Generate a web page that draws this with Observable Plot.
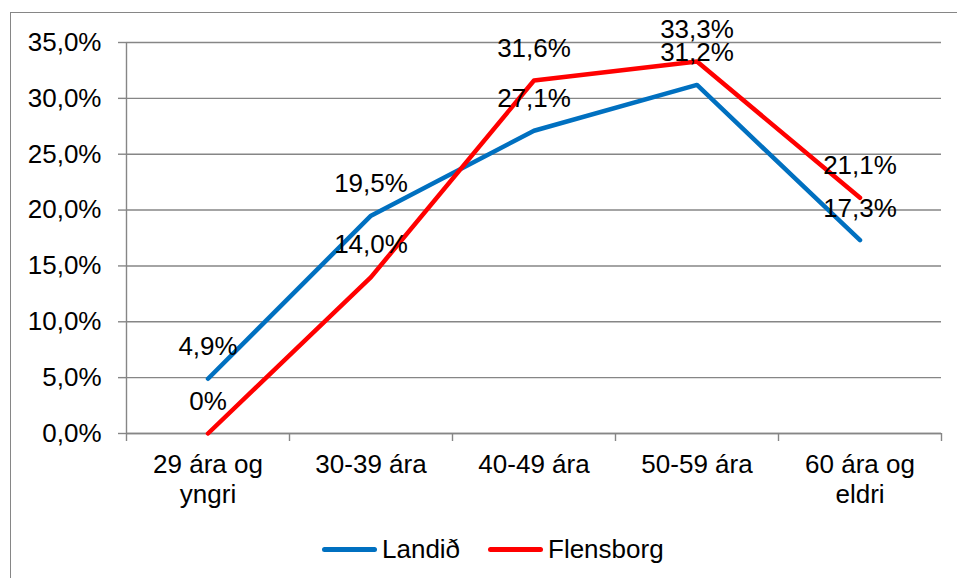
<!DOCTYPE html>
<html>
<head>
<meta charset="utf-8">
<script src="https://cdn.jsdelivr.net/npm/d3@7"></script>
<script src="https://cdn.jsdelivr.net/npm/@observablehq/plot@0.6"></script>
<style>
  html, body { margin: 0; padding: 0; background: #fff; }
  #wrap { position: relative; width: 957px; height: 578px; overflow: hidden; font-family: "Liberation Sans", Arial, sans-serif; }
  #frame { position: absolute; left: 10px; top: 12px; width: 1000px; height: 700px; border-left: 1.5px solid #868686; border-top: 1.5px solid #868686; box-sizing: border-box; }
  #chart { position: absolute; left: 0; top: 0; }
  #legend { position: absolute; top: 532px; left: 0; width: 957px; height: 34px; font-size: 26px; color: #000; }
  .item { position: absolute; top: 0; display: flex; align-items: center; height: 34px; }
  .swatch { width: 55px; height: 5px; border-radius: 3px; margin-right: 5px; }
</style>
</head>
<body>
<div id="wrap">
  <div id="frame"></div>
  <div id="chart"></div>
  <div id="legend"></div>
</div>
<script>
const categories = ["29 ára og\nyngri", "30-39 ára", "40-49 ára", "50-59 ára", "60 ára og\neldri"];
const seriesNames = ["Landið", "Flensborg"];
const seriesColors = ["#0070C0", "#FF0000"];
const landid = [4.9, 19.5, 27.1, 31.2, 17.3];
const flensborg = [0, 14.0, 31.6, 33.3, 21.1];
const landidLabels = ["4,9%", "19,5%", "27,1%", "31,2%", "17,3%"];
const flensborgLabels = ["0%", "14,0%", "31,6%", "33,3%", "21,1%"];
const yTicks = [0, 5, 10, 15, 20, 25, 30, 35];

const rows = [];
[landid, flensborg].forEach((vals, s) => {
  const labels = s === 0 ? landidLabels : flensborgLabels;
  vals.forEach((v, i) => rows.push({series: seriesNames[s], idx: i + 0.5, value: v, label: labels[i]}));
});
const catRows = categories.map((c, i) => ({idx: i + 0.5, zero: 0, label: c}));
const bounds = d3.range(categories.length + 1);
const grey = "#868686";

const chart = Plot.plot({
  width: 957,
  height: 515,
  marginLeft: 126,
  marginRight: 16,
  marginTop: 42,
  marginBottom: 82,
  style: {fontFamily: "'Liberation Sans', Arial, sans-serif", fontSize: "26px", overflow: "visible", background: "transparent", color: "#000"},
  x: {type: "linear", domain: [0, categories.length], axis: null},
  y: {type: "linear", domain: [0, 35], axis: null},
  color: {domain: seriesNames, range: seriesColors},
  marks: [
    Plot.gridY(yTicks, {stroke: grey, strokeOpacity: 1, strokeWidth: 1.4}),
    Plot.axisY(yTicks, {tickSize: 8, tickPadding: 17, stroke: grey, strokeWidth: 1.4, fill: "#000", fontSize: 26,
      tickFormat: d => d.toFixed(1).replace(".", ",") + "%", label: null}),
    Plot.ruleX([0], {y1: 0, y2: 35, stroke: grey, strokeWidth: 1.4}),
    Plot.ruleY([0], {stroke: grey, strokeWidth: 1.4}),
    Plot.axisX(bounds, {tickSize: 8, stroke: grey, strokeWidth: 1.4, tickFormat: () => "", label: null}),
    Plot.text(catRows, {x: "idx", y: "zero", text: "label", lineAnchor: "top", dy: 18, lineHeight: 1.15, fontSize: 26, fill: "#000"}),
    Plot.line(rows, {x: "idx", y: "value", z: "series", stroke: "series", strokeWidth: 4.5, strokeLinecap: "round", strokeLinejoin: "round"}),
    Plot.text(rows, {x: "idx", y: "value", text: "label", dy: -32, lineAnchor: "middle", fontSize: 26, fill: "#000"})
  ]
});
document.getElementById("chart").appendChild(chart);

const legend = document.getElementById("legend");
const lefts = [322, 488];
seriesNames.forEach((name, i) => {
  const item = document.createElement("div");
  item.className = "item";
  item.style.left = lefts[i] + "px";
  const sw = document.createElement("div");
  sw.className = "swatch";
  sw.style.background = seriesColors[i];
  const t = document.createElement("span");
  t.textContent = name;
  item.appendChild(sw);
  item.appendChild(t);
  legend.appendChild(item);
});
</script>
</body>
</html>
